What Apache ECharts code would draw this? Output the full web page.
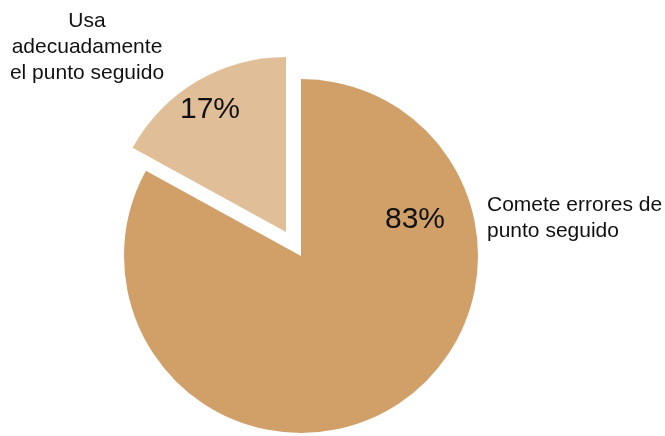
<!DOCTYPE html>
<html>
<head>
    <meta charset="utf-8" />
    <title></title>
    <script src="https://cdn.jsdelivr.net/npm/echarts@6/dist/echarts.min.js"></script>
    <style>
        html, body {
            width: 100%;
            height: 100%;
            margin: 0px;
            padding: 0px;
            background: #fff;
        }
        #main {
            width: 665px;
            height: 436px;
        }
    </style>
</head>
<body>
    <div id="main"></div>
<script type="text/javascript">
    // categories and values (percent)
    var categorias = ['Comete errores de\npunto seguido', 'Usa\nadecuadamente\nel punto seguido'];
    var valores = [83, 17];
    var colores = ['#D1A069', '#E0BF98'];

    var myChart = echarts.init(document.getElementById('main'));

    var fuente = "'Liberation Sans', Arial, Helvetica, sans-serif";
    var transparente = 'rgba(0,0,0,0)';

    // where the labels sit (percent inside, names outside)
    var posPct = [[415, 220], [210, 110]];
    var posNombre = [[487, 218, 'left'], [87, 47, 'center']];

    // pie showing only slice k, the other one left transparent
    function datosSolo(k) {
        return categorias.map(function (c, i) {
            return {
                name: c,
                value: valores[i],
                itemStyle: { color: i === k ? colores[i] : transparente },
                label: { show: i === k }
            };
        });
    }

    var basePie = {
        type: 'pie',
        radius: 177,
        startAngle: 90,
        clockwise: true,
        silent: true,
        animation: false,
        labelLine: { show: false },
        emphasis: { disabled: true }
    };

    var labelPct = {
        show: true,
        position: 'inside',
        color: '#111',
        fontSize: 30,
        fontFamily: fuente,
        formatter: function (p) {
            return Math.round(p.percent) + '%';
        }
    };

    function layoutPct(p) {
        var q = posPct[p.dataIndex];
        return { x: q[0], y: q[1], align: 'center', verticalAlign: 'middle' };
    }

    myChart.setOption({
        backgroundColor: '#fff',
        series: [
            // big slice
            Object.assign({}, basePie, {
                center: [301, 256],
                data: datosSolo(0),
                label: labelPct,
                labelLayout: layoutPct
            }),
            // small slice, pulled out
            Object.assign({}, basePie, {
                center: [286, 232],
                radius: 175,
                data: datosSolo(1),
                label: labelPct,
                labelLayout: layoutPct
            }),
            // category names
            Object.assign({}, basePie, {
                center: [301, 256],
                data: categorias.map(function (c, i) {
                    return { name: c, value: valores[i] };
                }),
                itemStyle: { color: transparente },
                label: {
                    show: true,
                    position: 'outside',
                    color: '#111',
                    fontSize: 21,
                    lineHeight: 26,
                    fontFamily: fuente,
                    formatter: '{b}'
                },
                labelLayout: function (p) {
                    var q = posNombre[p.dataIndex];
                    return { x: q[0], y: q[1], align: q[2], verticalAlign: 'middle' };
                }
            })
        ]
    });

    window.addEventListener('resize', function () {
        myChart.resize();
    });
</script>
</body>
</html>
